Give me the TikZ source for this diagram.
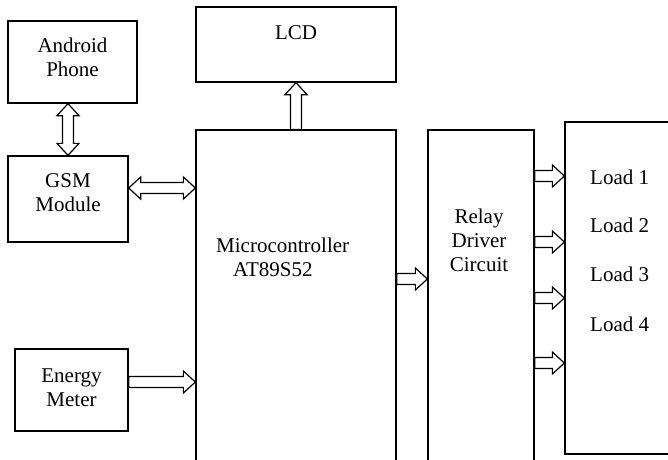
\documentclass[tikz,border=0pt]{standalone}
\usepackage{fontspec}
\setmainfont{Liberation Serif}
\usepackage{tikz}
\usetikzlibrary{calc}
\newcommand{\shw}{5.5pt}
\newcommand{\hhw}{11pt}
\newcommand{\hln}{12pt}

\begin{document}
\begin{tikzpicture}[
  x=1pt,y=-1pt,
  every node/.style={font=\fontsize{21}{24}\selectfont},
  box/.style={draw,line width=1.3pt,inner sep=0pt,align=center},
  lbl/.style={inner sep=0pt,align=center},
  hollow/.style={line width=1.2pt,line join=miter,to path={let \p1=(\tikztostart), \p2=(\tikztotarget),
      \n1={atan2(\y2-\y1,\x2-\x1)} in
      ($(\p1)+(\n1+90:\shw)$)
      -- ($(\p2)+(\n1+180:\hln)+(\n1+90:\shw)$)
      -- ($(\p2)+(\n1+180:\hln)+(\n1+90:\hhw)$)
      -- (\p2)
      -- ($(\p2)+(\n1+180:\hln)+(\n1-90:\hhw)$)
      -- ($(\p2)+(\n1+180:\hln)+(\n1-90:\shw)$)
      -- ($(\p1)+(\n1-90:\shw)$) -- cycle}},
  hollowtwo/.style={line width=1.2pt,line join=miter,to path={let \p1=(\tikztostart), \p2=(\tikztotarget),
      \n1={atan2(\y2-\y1,\x2-\x1)} in
      ($(\p1)+(\n1:\hln)+(\n1+90:\shw)$)
      -- ($(\p2)+(\n1+180:\hln)+(\n1+90:\shw)$)
      -- ($(\p2)+(\n1+180:\hln)+(\n1+90:\hhw)$)
      -- (\p2)
      -- ($(\p2)+(\n1+180:\hln)+(\n1-90:\hhw)$)
      -- ($(\p2)+(\n1+180:\hln)+(\n1-90:\shw)$)
      -- ($(\p1)+(\n1:\hln)+(\n1-90:\shw)$)
      -- ($(\p1)+(\n1:\hln)+(\n1-90:\hhw)$)
      -- (\p1)
      -- ($(\p1)+(\n1:\hln)+(\n1+90:\hhw)$) -- cycle}}
]
  \useasboundingbox (0,0) rectangle (668,459);
  \clip (0,0) rectangle (668,459);

  % blocks
  \node[box,text depth=10pt,minimum width=129pt,minimum height=82pt] (phone) at (72.5,62) {Android\\Phone};
  \node[box,text depth=12pt,minimum width=120pt,minimum height=86pt] (gsm) at (68,199) {GSM\\Module};
  \node[box,text depth=4pt,minimum width=113pt,minimum height=82pt] (meter) at (71.5,390) {Energy\\Meter};
  \node[box,minimum width=200pt,minimum height=75pt] (lcd) at (296,44.5) {};
  \node[box,minimum width=200pt,minimum height=350pt] (micro) at (296,305) {};
  \node[box,minimum width=106pt,minimum height=350pt] (relay) at (481,305) {};
  \node[box,minimum width=155pt,minimum height=332pt] (load) at (642.5,288) {};

  % texts
  \node[lbl] (lcdtxt) at (296,33) {LCD};
  \node[lbl,anchor=west,align=left] (microtxt) at (216,257) {Microcontroller\\\hspace*{17pt}AT89S52};
  \node[lbl] (relaytxt) at (479,240) {Relay\\Driver\\Circuit};
  \foreach \i/\ly in {1/177,2/225,3/274,4/324}
    \node[lbl,anchor=west] (load\i) at (590,\ly) {Load \i};

  % links
  \draw[hollowtwo] (gsm.north |- phone.south) to (gsm.north);
  \draw[hollowtwo] (gsm.east |- 0,188) to (micro.west |- 0,188);
  \draw[hollow] (micro.north) to (lcd.south);
  \draw[hollow] (meter.east |- 0,382) to (micro.west |- 0,382);
  \draw[hollow] (micro.east |- 0,279) to (relay.west |- 0,279);
  \foreach \ly in {176,242,298,363}
    \draw[hollow] (relay.east |- 0,\ly) to (load.west |- 0,\ly);
\end{tikzpicture}
\end{document}
